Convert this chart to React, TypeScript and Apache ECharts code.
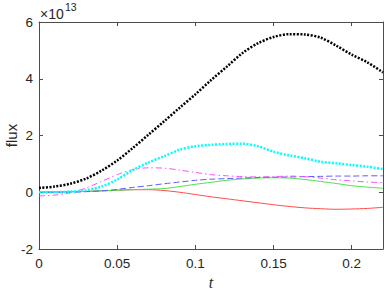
import React, { useEffect, useRef } from "react";
import * as echarts from "echarts";

const tValues = [0, 0.01, 0.02, 0.03, 0.04, 0.05, 0.06, 0.07, 0.08, 0.09, 0.1, 0.11, 0.12, 0.13, 0.14, 0.15, 0.16, 0.17, 0.18, 0.19, 0.2, 0.21, 0.22];

const blackDotted = [0.15, 0.2, 0.3, 0.48, 0.76, 1.12, 1.56, 2.03, 2.5, 2.98, 3.45, 3.95, 4.42, 4.9, 5.25, 5.47, 5.57, 5.56, 5.45, 5.17, 4.85, 4.58, 4.22];
const cyanDotted = [0.0, 0.0, 0.02, 0.07, 0.2, 0.45, 0.78, 1.05, 1.27, 1.5, 1.62, 1.67, 1.7, 1.71, 1.62, 1.43, 1.3, 1.2, 1.08, 1.02, 0.96, 0.9, 0.82];
const magentaDashDot = [-0.13, -0.1, -0.02, 0.15, 0.38, 0.62, 0.8, 0.86, 0.85, 0.78, 0.7, 0.62, 0.58, 0.55, 0.54, 0.55, 0.57, 0.55, 0.5, 0.44, 0.4, 0.36, 0.34];
const blueDashed = [0.0, 0.0, 0.0, 0.02, 0.05, 0.1, 0.17, 0.23, 0.3, 0.36, 0.42, 0.46, 0.48, 0.5, 0.52, 0.53, 0.54, 0.55, 0.56, 0.57, 0.57, 0.58, 0.58];
const greenSolid = [0.0, 0.01, 0.02, 0.03, 0.05, 0.07, 0.09, 0.11, 0.13, 0.2, 0.28, 0.35, 0.42, 0.47, 0.5, 0.51, 0.5, 0.45, 0.38, 0.31, 0.23, 0.18, 0.14];
const redSolid = [0.0, 0.01, 0.02, 0.03, 0.05, 0.07, 0.09, 0.09, 0.06, 0.0, -0.08, -0.16, -0.23, -0.3, -0.37, -0.44, -0.5, -0.55, -0.58, -0.6, -0.59, -0.57, -0.53];

const xTickStep = 0.05;
const yTicks = [-2, 0, 2, 4, 6];
const exponentLabel = "13";

const pairs = (vals: number[]) => tValues.map((t, i) => [t, vals[i]]);

const axisColor = "#4d4d4d";
const labelColor = "#262626";
const sansFont = "Liberation Sans, Arial, sans-serif";

export default function App() {
  const ref = useRef<HTMLDivElement>(null);
  useEffect(() => {
    if (!ref.current) return;
    const chart = echarts.init(ref.current, undefined, { renderer: "svg" });
    const xFmt = (v: number) => {
      const r = v / xTickStep;
      return Math.abs(r - Math.round(r)) < 1e-6 ? String(+v.toFixed(2)) : "";
    };
    const common = {
      axisLine: { show: true, onZero: false, lineStyle: { color: axisColor, width: 1 } },
      splitLine: { show: false },
    };
    const mk = (name: string, vals: number[], color: string, type: any, width: number) => ({
      name,
      type: "line",
      data: pairs(vals),
      smooth: 0.3,
      showSymbol: false,
      symbol: "none",
      xAxisIndex: 0,
      yAxisIndex: 0,
      lineStyle: { color, type, width, cap: "butt" },
      z: 2,
    });
    chart.setOption({
      animation: false,
      grid: { left: 39, right: 3, top: 22, bottom: 42, containLabel: false, outerBoundsMode: "none" },
      xAxis: [
        {
          type: "value",
          min: 0,
          max: 0.22,
          interval: xTickStep,
          position: "bottom",
          ...common,
          axisTick: { show: true, inside: true, length: 4, lineStyle: { color: axisColor } },
          axisLabel: { formatter: xFmt, color: labelColor, fontSize: 13.5, fontFamily: sansFont, margin: 7 },
          name: "t",
          nameLocation: "middle",
          nameGap: 25,
          nameMoveOverlap: false,
          nameTextStyle: { fontFamily: "Liberation Serif, Times New Roman, serif", fontStyle: "italic", fontSize: 16, color: labelColor },
        },
        {
          type: "value",
          min: 0,
          max: 0.22,
          interval: xTickStep,
          position: "top",
          ...common,
          axisTick: { show: true, inside: true, length: 4, lineStyle: { color: axisColor } },
          axisLabel: { show: false },
        },
      ],
      yAxis: [
        {
          type: "value",
          min: yTicks[0],
          max: yTicks[yTicks.length - 1],
          interval: yTicks[1] - yTicks[0],
          position: "left",
          ...common,
          axisTick: { show: true, inside: true, length: 4, lineStyle: { color: axisColor } },
          axisLabel: { color: labelColor, fontSize: 13.5, fontFamily: sansFont, margin: 6 },
          name: "flux",
          nameLocation: "middle",
          nameGap: 20,
          nameMoveOverlap: false,
          nameTextStyle: { fontFamily: sansFont, fontSize: 15, color: labelColor },
        },
        {
          type: "value",
          min: yTicks[0],
          max: yTicks[yTicks.length - 1],
          interval: yTicks[1] - yTicks[0],
          position: "right",
          ...common,
          axisTick: { show: true, inside: true, length: 4, lineStyle: { color: axisColor } },
          axisLabel: { show: false },
        },
      ],
      graphic: [
        {
          type: "text",
          left: 40,
          top: 7,
          style: { text: "×10", font: `14px ${sansFont}`, fill: labelColor },
        },
        {
          type: "text",
          left: 65,
          top: 1,
          style: { text: exponentLabel, font: `10.5px ${sansFont}`, fill: labelColor },
        },
      ],
      series: [
        mk("red", redSolid, "#ff4a4a", "solid", 1),
        mk("green", greenSolid, "#4fe04f", "solid", 1),
        mk("blue", blueDashed, "#5c5cff", [6, 3], 1),
        mk("magenta", magentaDashDot, "#ff4fff", [6, 3, 1.5, 3], 1),
        mk("cyan", cyanDotted, "#00ffff", [2, 1.5], 2.5),
        mk("black", blackDotted, "#000000", [2, 1.5], 2.5),
      ],
    });
    return () => chart.dispose();
  }, []);
  return (
    <div
      ref={ref}
      style={{ position: "fixed", left: 0, top: 0, width: 386, height: 291, background: "#fff" }}
    />
  );
}
